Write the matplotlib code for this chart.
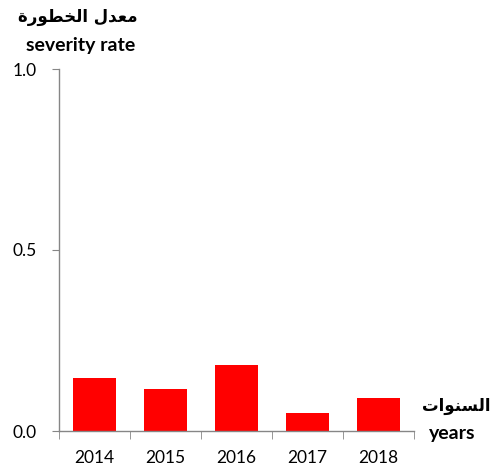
import numpy as np
import matplotlib
matplotlib.use('Agg')
import matplotlib.pyplot as plt

# data
years = ['2014', '2015', '2016', '2017', '2018']
severity = [0.146, 0.116, 0.182, 0.050, 0.091]
y_ticks = [0.0, 0.5, 1.0]
y_tick_labels = ['0.0', '0.5', '1.0']

# arabic labels, pre-shaped (presentation forms, visual order)
ar_rate = '\uFE93\uFEAD\uFEEE\uFEC4\uFEA8\uFEDF\uFE8D \uFEDD\uFEAA\uFECC\uFEE3'   # معدل الخطورة
ar_years = '\uFE95\uFE8D\uFEEE\uFEE8\uFEB4\uFEDF\uFE8D'                          # السنوات

plt.rcParams['font.family'] = ['Lato', 'DejaVu Sans']

fig = plt.figure(figsize=(4.97, 4.70), dpi=100)
ax = fig.add_axes([59/497, 1 - 431/470, (414 - 59)/497, (431 - 69)/470])

x = np.arange(len(years))
ax.bar(x, severity, width=0.6, color='#ff0000', zorder=2)

ax.set_xlim(-0.5, len(years) - 0.5)
ax.set_ylim(0, 1.0)

gray = '#868686'
for s in ['top', 'right']:
    ax.spines[s].set_visible(False)
for s in ['left', 'bottom']:
    ax.spines[s].set_color(gray)
    ax.spines[s].set_linewidth(1.0)

ax.set_yticks(y_ticks)
ax.set_yticklabels(y_tick_labels, fontsize=12.5)
ax.tick_params(axis='y', length=5, color=gray, pad=11)

ax.set_xticks(x)
ax.set_xticklabels(years, fontsize=12.5)
ax.tick_params(axis='x', which='major', length=0, pad=14)
ax.set_xticks(np.arange(len(years) + 1) - 0.5, minor=True)
ax.tick_params(axis='x', which='minor', length=6, color=gray)

# axis titles
fig.text(78/497, 1 - 17/470, ar_rate, ha='center', va='center',
         fontsize=12, fontweight='bold', family=['DejaVu Sans'])
fig.text(81/497, 1 - 45/470, 'severity rate', ha='center', va='center',
         fontsize=14, fontweight='bold')
fig.text(456/497, 1 - 406/470, ar_years, ha='center', va='center',
         fontsize=12, fontweight='bold', family=['DejaVu Sans'])
fig.text(429/497, 1 - 433/470, 'years', ha='left', va='center',
         fontsize=14, fontweight='bold')

fig.savefig('out.png', dpi=100)
